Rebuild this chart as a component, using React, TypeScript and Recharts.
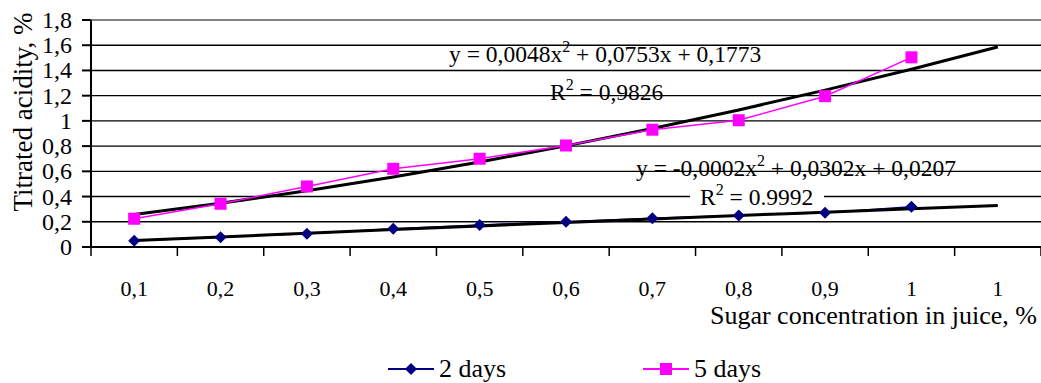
import React from "react";
import {
  LineChart,
  Line,
  XAxis,
  YAxis,
  CartesianGrid,
  ReferenceLine,
  Legend,
} from "recharts";

const categories = ["0,1", "0,2", "0,3", "0,4", "0,5", "0,6", "0,7", "0,8", "0,9", "1", "1"];
const positions = [1, 2, 3, 4, 5, 6, 7, 8, 9, 10, 11];
const days2 = [0.05, 0.078, 0.105, 0.145, 0.175, 0.2, 0.228, 0.25, 0.272, 0.32, null];
const days5 = [0.224, 0.343, 0.48, 0.62, 0.7, 0.805, 0.93, 1.005, 1.196, 1.504, null];
// polynomial trendlines as drawn in the picture
const trend2 = [0.051, 0.08, 0.109, 0.138, 0.167, 0.195, 0.222, 0.25, 0.276, 0.303, 0.329];
const trend5 = [0.257, 0.347, 0.446, 0.555, 0.674, 0.802, 0.94, 1.087, 1.244, 1.41, 1.586];
const yTicks = [0, 0.2, 0.4, 0.6, 0.8, 1, 1.2, 1.4, 1.6, 1.8];

const W = 1041;
const H = 383;
const PLOT_LEFT = 91;
const HALF_BAND = (W - PLOT_LEFT) / categories.length / 2;
const FONT = "Liberation Serif, Times New Roman, Times, DejaVu Serif, serif";

const data = positions.map((x, i) => ({
  x,
  d2: days2[i],
  d5: days5[i],
  t2: trend2[i],
  t5: trend5[i],
}));

const fmt = (v: number) => String(v).replace(".", ",");

function XTick(props: any) {
  const { x, y, payload, index } = props;
  const label = categories[payload.value - 1];
  return (
    <g>
      <line x1={x - HALF_BAND} x2={x - HALF_BAND} y1={y} y2={y + 9} stroke="#000" strokeWidth={1.5} />
      {index === categories.length - 1 && (
        <line x1={x + HALF_BAND} x2={x + HALF_BAND} y1={y} y2={y + 9} stroke="#000" strokeWidth={1.5} />
      )}
      <text x={x} y={y + 49} textAnchor="middle" style={{ fontFamily: FONT, fontSize: 22 }} fill="#000">
        {label}
      </text>
    </g>
  );
}

function YTick(props: any) {
  const { x, y, payload } = props;
  return (
    <text x={x} y={y} dy={8} textAnchor="end" style={{ fontFamily: FONT, fontSize: 24 }} fill="#000">
      {fmt(payload.value)}
    </text>
  );
}

function Diamond(props: any) {
  const { cx, cy, value } = props;
  if (value == null || cx == null) return null;
  return <path d={`M${cx},${cy - 6}L${cx + 6},${cy}L${cx},${cy + 6}L${cx - 6},${cy}Z`} fill="#000080" />;
}

function Square(props: any) {
  const { cx, cy, value } = props;
  if (value == null || cx == null) return null;
  return <rect x={cx - 6} y={cy - 6} width={12} height={12} fill="#FF00FF" />;
}

function LegendContent() {
  const item = (left: number, color: string, marker: React.ReactNode, text: string) => (
    <div style={{ position: "absolute", left, top: 0, display: "flex", alignItems: "center" }}>
      <svg width={46} height={24}>
        <line x1={0} x2={46} y1={12} y2={12} stroke={color} strokeWidth={2} />
        {marker}
      </svg>
      <span style={{ fontFamily: FONT, fontSize: 26, marginLeft: 5, lineHeight: "24px" }}>{text}</span>
    </div>
  );
  return (
    <div style={{ position: "relative", width: W, height: 24 }}>
      {item(388, "#000080", <path d="M23,6L29,12L23,18L17,12Z" fill="#000080" />, "2 days")}
      {item(643, "#FF00FF", <rect x={17} y={6} width={12} height={12} fill="#FF00FF" />, "5 days")}
    </div>
  );
}

export default function App() {
  return (
    <div style={{ position: "absolute", left: 0, top: 0, width: W, height: H, background: "#fff", fontFamily: FONT }}>
      <LineChart width={W} height={H} data={data} margin={{ top: 20, right: 0, left: 0, bottom: 52 }}>
        <CartesianGrid horizontal vertical={false} stroke="#000" strokeWidth={1.4} />
        <ReferenceLine y={1.8} stroke="#999" strokeWidth={1.5} />
        <XAxis
          dataKey="x"
          type="number"
          domain={[0.5, 11.5]}
          ticks={positions}
          tick={<XTick />}
          tickLine={false}
          tickSize={0}
          tickMargin={0}
          height={60}
          stroke="#000"
          strokeWidth={2}
          interval={0}
        />
        <YAxis
          domain={[0, 1.8]}
          ticks={yTicks}
          width={PLOT_LEFT}
          tickSize={9}
          tickMargin={10}
          stroke="#000"
          strokeWidth={2}
          tick={<YTick />}
          interval={0}
        />
        <Legend verticalAlign="bottom" height={24} wrapperStyle={{ top: 357, bottom: "auto", left: 0 }} content={<LegendContent />} />
        <Line dataKey="d2" stroke="#000080" strokeWidth={1.5} dot={false} isAnimationActive={false} legendType="none" />
        <Line dataKey="t5" type="monotone" stroke="#000" strokeWidth={3} dot={false} isAnimationActive={false} legendType="none" />
        <Line dataKey="t2" type="monotone" stroke="#000" strokeWidth={3} dot={false} isAnimationActive={false} legendType="none" />
        <Line dataKey="d5" stroke="#FF00FF" strokeWidth={1.5} dot={<Square />} isAnimationActive={false} />
        <Line dataKey="d2" stroke="none" dot={<Diamond />} isAnimationActive={false} />
      </LineChart>
      <svg width={W} height={H} style={{ position: "absolute", left: 0, top: 0, pointerEvents: "none", fontFamily: FONT }}>
        <text transform="translate(32,112) rotate(-90)" textAnchor="middle" fontSize={27} fill="#000">
          Titrated acidity, %
        </text>
        <text x={1037} y={324} textAnchor="end" fontSize={26} fill="#000">
          Sugar concentration in juice, %
        </text>
        <g fontSize={23.5} fill="#000">
          <text x={449} y={62}>
            y = 0,0048x<tspan dy={-10} fontSize={16}>2</tspan>
            <tspan dy={10}> + 0,0753x + 0,1773</tspan>
          </text>
          <text x={550} y={100}>
            R<tspan dy={-10} fontSize={16}>2</tspan>
            <tspan dy={10}> = 0,9826</tspan>
          </text>
          <text x={636} y={176}>
            y = -0,0002x<tspan dy={-10} fontSize={16}>2</tspan>
            <tspan dy={10}> + 0,0302x + 0,0207</tspan>
          </text>
          <rect x={690} y={186} width={134} height={21} fill="#fff" />
          <text x={700} y={205}>
            R<tspan dy={-10} fontSize={16}>2</tspan>
            <tspan dy={10}> = 0.9992</tspan>
          </text>
        </g>
      </svg>
    </div>
  );
}
